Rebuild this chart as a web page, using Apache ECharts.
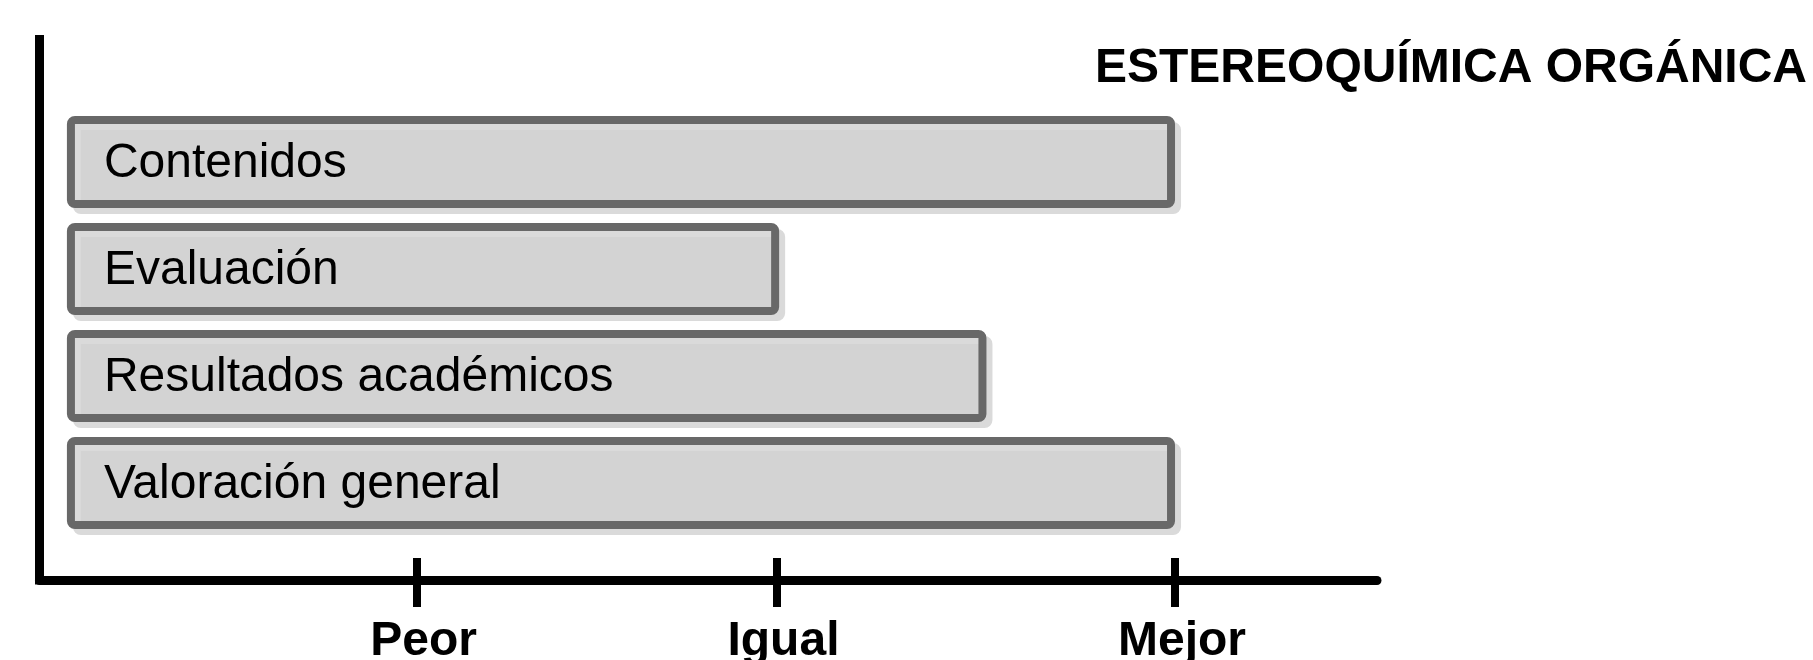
<!DOCTYPE html>
<html>
<head>
<meta charset="utf-8">
<script src="https://cdn.jsdelivr.net/npm/echarts@6/dist/echarts.min.js"></script>
<style>
html,body{margin:0;padding:0;background:#fff;}
#chart{width:1813px;height:660px;}
</style>
</head>
<body>
<div id="chart"></div>
<script>
var titleText = 'ESTEREOQUÍMICA ORGÁNICA';
var categories = ['Contenidos', 'Evaluación', 'Resultados académicos', 'Valoración general'];
var barStart = 2.05;
var barEnd = [84.9, 55.3, 70.8, 84.9];
var tickValues = [28.2, 55.1, 84.9];
var tickLabels = ['Peor', 'Igual', 'Mejor'];

var FONT = '"Liberation Sans", Arial, sans-serif';
var chart = echarts.init(document.getElementById('chart'), null, {renderer: 'canvas'});

var baseData = categories.map(function () { return barStart; });
var lenData = barEnd.map(function (v) { return +(v - barStart).toFixed(2); });

var option = {
  backgroundColor: '#fff',
  animation: false,
  title: {
    text: titleText,
    left: 1090,
    top: 40,
    textStyle: {fontFamily: FONT, fontSize: 48, fontWeight: 'bold', color: '#000'}
  },
  grid: [
    {left: 39.5, right: 436, top: 39.5, bottom: 80, containLabel: false, outerBoundsMode: 'none'},
    {left: 39.5, right: 436, top: 108.5, bottom: 123.5, containLabel: false, outerBoundsMode: 'none'}
  ],
  xAxis: [
    {
      gridIndex: 0, type: 'value', min: 0, max: 100, position: 'bottom',
      axisLine: {show: true, lineStyle: {color: '#000', width: 9}},
      axisTick: {show: false},
      axisLabel: {
        show: true, customValues: tickValues, margin: 38, padding: [0, 0, 0, 14],
        fontFamily: FONT, fontSize: 48, fontWeight: 'bold', color: '#000',
        formatter: function (v) {
          var i = tickValues.indexOf(v);
          return i >= 0 ? tickLabels[i] : '';
        }
      },
      splitLine: {show: false}
    },
    {
      gridIndex: 0, type: 'value', min: 0, max: 100, position: 'bottom', offset: 27,
      axisLine: {show: false, onZero: false},
      axisTick: {show: true, inside: true, length: 49, customValues: tickValues,
        lineStyle: {color: '#000', width: 8}},
      axisLabel: {show: false},
      splitLine: {show: false}
    },
    {
      gridIndex: 1, type: 'value', min: 0, max: 100, show: false,
      splitLine: {show: false}
    }
  ],
  yAxis: [
    {
      gridIndex: 0, type: 'value', min: 0, max: 1,
      axisLine: {show: true, lineStyle: {color: '#000', width: 9, cap: 'square'}},
      axisTick: {show: false}, axisLabel: {show: false}, splitLine: {show: false}
    },
    {
      gridIndex: 1, type: 'category', data: categories, inverse: true, show: false
    }
  ],
  series: [
    {
      type: 'bar', xAxisIndex: 2, yAxisIndex: 1, stack: 'b',
      data: baseData, barWidth: 92, silent: true,
      itemStyle: {color: 'transparent'}
    },
    {
      type: 'bar', xAxisIndex: 2, yAxisIndex: 1, stack: 'b',
      data: lenData, barWidth: 92,
      itemStyle: {
        color: '#d3d3d3', borderColor: '#686868', borderWidth: 8, borderRadius: 4,
        shadowColor: '#dadada', shadowOffsetX: 6, shadowOffsetY: 6, shadowBlur: 0
      },
      label: {
        show: true, position: 'insideLeft', distance: 37, offset: [0, 2],
        formatter: function (p) { return categories[p.dataIndex]; },
        fontFamily: FONT, fontSize: 48, color: '#000'
      }
    }
  ]
};
chart.setOption(option);
</script>
</body>
</html>
